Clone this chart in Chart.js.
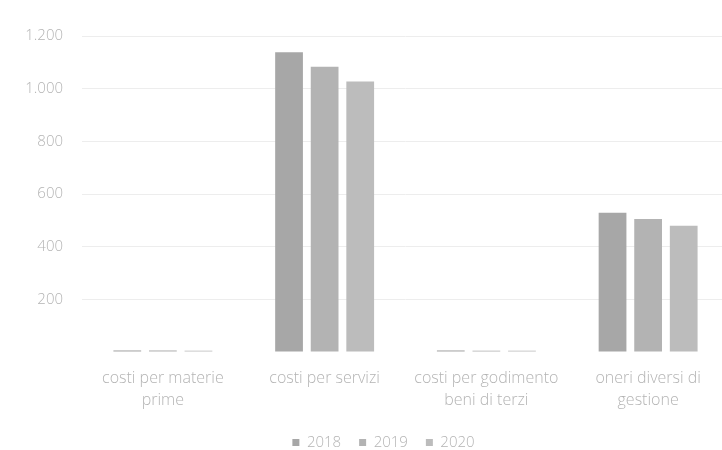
<!DOCTYPE html>
<html>
<head>
<meta charset="utf-8">
<script src="https://cdn.jsdelivr.net/npm/chart.js@4.4.0/dist/chart.umd.min.js"></script>
<style>
  html, body { margin: 0; padding: 0; background: #fff; overflow: hidden; }
  #wrap { width: 740px; height: 470px; position: relative; }
</style>
</head>
<body>
<div id="wrap"><canvas id="chart"></canvas></div>
<script>
// dati
const categories = [
  ['costi per materie', 'prime'],
  ['costi per servizi'],
  ['costi per godimento', 'beni di terzi'],
  ['oneri diversi di', 'gestione']
];
const years = ['2018', '2019', '2020'];
const values2018 = [6, 1138, 6, 529];
const values2019 = [6, 1083, 5, 505];
const values2020 = [5, 1027, 5, 479];
const yTicks = [200, 400, 600, 800, 1000, 1200];

const colors = ['#a7a7a7', '#b3b3b3', '#bcbcbc'];
const textColor = '#b4b4b4';
const font = "'Open Sans', Lato, sans-serif";

// sposta la legenda un po' a destra come nell'originale
const legendShift = {
  id: 'legendShift',
  afterLayout(chart) {
    chart.legend.left += 19;
    chart.legend.right += 19;
  }
};

const ctx = document.getElementById('chart').getContext('2d');
new Chart(ctx, {
  type: 'bar',
  data: {
    labels: categories,
    datasets: [values2018, values2019, values2020].map((v, i) => ({
      label: years[i],
      data: v,
      backgroundColor: colors[i],
      categoryPercentage: 0.66,
      barPercentage: 0.78
    }))
  },
  options: {
    responsive: true,
    maintainAspectRatio: false,
    animation: false,
    layout: { padding: { top: 36, right: 11, left: 0, bottom: 10 } },
    plugins: {
      legend: {
        position: 'bottom',
        labels: {
          color: textColor,
          boxWidth: 7,
          boxHeight: 7,
          padding: 18,
          font: { family: font, size: 15, weight: '300' }
        }
      },
      tooltip: { enabled: false }
    },
    scales: {
      x: {
        grid: { display: false, drawTicks: false },
        border: { display: false },
        ticks: {
          color: textColor,
          padding: 15,
          font: { family: font, size: 16, weight: '300', lineHeight: 1.375 }
        },
        afterFit: s => { s.height = 65; }
      },
      y: {
        min: 0,
        max: 1200,
        afterBuildTicks: s => { s.ticks = [0].concat(yTicks).map(v => ({ value: v })); },
        afterFit: s => { s.width = 82; },
        grid: {
          drawTicks: false,
          color: c => c.tick.value === 0 ? 'rgba(0,0,0,0)' : '#ededed'
        },
        border: { display: false },
        ticks: {
          color: textColor,
          padding: 19,
          font: { family: font, size: 15, weight: '300' },
          callback: v => v === 0 ? '' : v.toLocaleString('it-IT')
        }
      }
    }
  },
  plugins: [legendShift]
});
</script>
</body>
</html>
